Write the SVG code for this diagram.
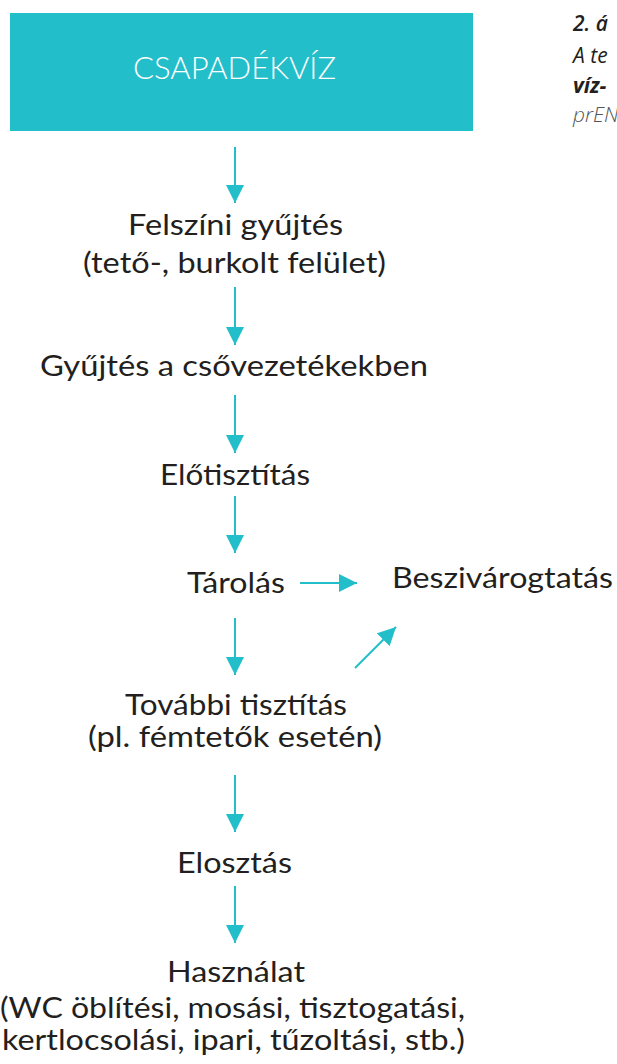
<svg xmlns="http://www.w3.org/2000/svg" width="617" height="1064" viewBox="0 0 617 1064">
<style>
.t{font-family:Lato,"Open Sans","Liberation Sans",sans-serif;font-size:28px;fill:#231F20;}
.c{stroke:#22BECA;stroke-width:2;fill:none;marker-end:url(#ah);}
.cap{font-family:"Open Sans",Lato,"Liberation Sans",sans-serif;font-size:21px;font-style:italic;}
</style>
<defs>
<marker id="ah" markerUnits="userSpaceOnUse" markerWidth="18" markerHeight="18" refX="18" refY="9" orient="auto">
<path d="M0,0 L18,9 L0,18 z" fill="#22BECA"/>
</marker>
</defs>
<rect width="617" height="1064" fill="#FFFFFF"/>
<g id="n-csapadekviz">
<rect x="10" y="13" width="463" height="118" fill="#22BECA"/>
<text x="133" y="79" font-family="Lato,'Open Sans','Liberation Sans',sans-serif" font-size="31" font-weight="300" fill="#FFFFFF" textLength="203" lengthAdjust="spacingAndGlyphs">CSAPADÉKVÍZ</text>
</g>
<g id="caption">
<text class="cap" x="573" y="31" fill="#231F20" font-weight="600">2. á</text>
<text class="cap" x="573" y="63" fill="#231F20" font-weight="400">A te</text>
<text class="cap" x="573" y="93" fill="#231F20" font-weight="700">víz-</text>
<text class="cap" x="573" y="122" fill="#555555" font-weight="300">prEN</text>
</g>
<g id="n-felszini">
<text class="t" x="128" y="235" textLength="215" lengthAdjust="spacingAndGlyphs">Felszíni gyűjtés</text>
<text class="t" x="83" y="273" textLength="303" lengthAdjust="spacingAndGlyphs">(tető-, burkolt felület)</text>
</g>
<g id="n-gyujtes">
<text class="t" x="40" y="376" textLength="388" lengthAdjust="spacingAndGlyphs">Gyűjtés a csővezetékekben</text>
</g>
<g id="n-elotisztitas">
<text class="t" x="160" y="485" textLength="150" lengthAdjust="spacingAndGlyphs">Előtisztítás</text>
</g>
<g id="n-tarolas">
<text class="t" x="187" y="593" textLength="98" lengthAdjust="spacingAndGlyphs">Tárolás</text>
</g>
<g id="n-beszivarogtatas">
<text class="t" x="392" y="588" textLength="221" lengthAdjust="spacingAndGlyphs">Beszivárogtatás</text>
</g>
<g id="n-tovabbi">
<text class="t" x="125" y="715" textLength="222" lengthAdjust="spacingAndGlyphs">További tisztítás</text>
<text class="t" x="88" y="747" textLength="294" lengthAdjust="spacingAndGlyphs">(pl. fémtetők esetén)</text>
</g>
<g id="n-elosztas">
<text class="t" x="177" y="873" textLength="115" lengthAdjust="spacingAndGlyphs">Elosztás</text>
</g>
<g id="n-hasznalat">
<text class="t" x="167" y="982" textLength="138" lengthAdjust="spacingAndGlyphs">Használat</text>
<text class="t" x="0" y="1018" textLength="465" lengthAdjust="spacingAndGlyphs">(WC öblítési, mosási, tisztogatási,</text>
<text class="t" x="2" y="1050" textLength="463" lengthAdjust="spacingAndGlyphs">kertlocsolási, ipari, tűzoltási, stb.)</text>
</g>
<g id="connectors">
<line class="c" x1="235" y1="147" x2="235" y2="203"/>
<line class="c" x1="235" y1="287" x2="235" y2="345"/>
<line class="c" x1="235" y1="395" x2="235" y2="453"/>
<line class="c" x1="235" y1="496" x2="235" y2="553"/>
<line class="c" x1="300" y1="583" x2="357" y2="583"/>
<line class="c" x1="235" y1="618" x2="235" y2="675"/>
<line class="c" x1="355" y1="668" x2="396" y2="627"/>
<line class="c" x1="235" y1="775" x2="235" y2="832"/>
<line class="c" x1="235" y1="886" x2="235" y2="943"/>
</g>
</svg>
